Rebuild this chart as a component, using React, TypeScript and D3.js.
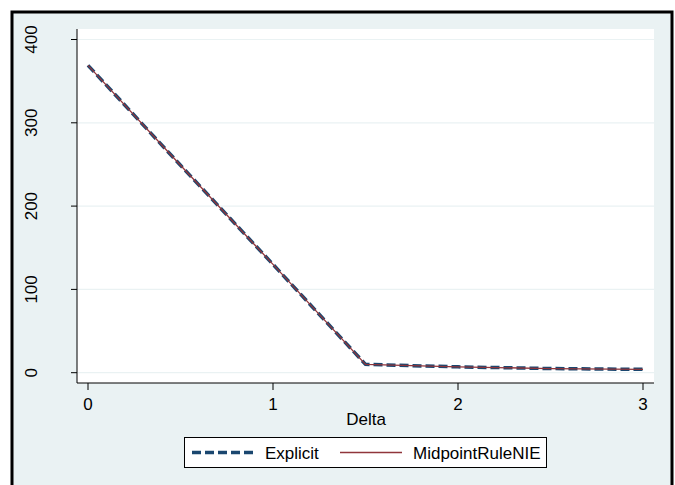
import React from "react";
import * as d3 from "d3";

const deltas = [0, 0.5, 1, 1.5, 2, 2.5, 3];
const explicitVals = [369, 249, 130, 10, 7, 5, 4];
const midpointVals = [369, 249, 130, 10, 7, 5, 4];
const yTicks = [0, 100, 200, 300, 400];
const xTicks = [0, 1, 2, 3];
const seriesNames = ["Explicit", "MidpointRuleNIE"];

export default function App() {
  const W = 675, H = 485;
  const plot = { left: 77, right: 654, top: 29, bottom: 383 };
  const x = d3.scaleLinear().domain([0, 3]).range([88, 643]);
  const y = d3.scaleLinear().domain([0, 400]).range([372.7, 39.5]);
  const line = d3.line<number>().x((_, i) => x(deltas[i])).y((d) => y(d));
  const font = "Arial, 'Liberation Sans', sans-serif";
  const fs = 17;
  return (
    <svg width={W} height={H} style={{ position: "absolute", left: 0, top: 0 }}>
      <rect x={0} y={0} width={W} height={H} fill="#ffffff" />
      <rect x={12} y={12} width={660} height={H} fill="#eaf2f3" stroke="#000" strokeWidth={3} />
      <rect x={plot.left} y={plot.top} width={plot.right - plot.left} height={plot.bottom - plot.top} fill="#ffffff" />
      {yTicks.map((t) => (
        <g key={t}>
          <line x1={plot.left} x2={plot.right} y1={y(t)} y2={y(t)} stroke="#eaf2f3" strokeWidth={1.2} />
          <line x1={71} x2={plot.left} y1={y(t)} y2={y(t)} stroke="#000" strokeWidth={1} />
          <text x={37} y={y(t)} transform={`rotate(-90 37 ${y(t)})`} textAnchor="middle" fontFamily={font} fontSize={fs}>{t}</text>
        </g>
      ))}
      {xTicks.map((t) => (
        <g key={t}>
          <line x1={x(t)} x2={x(t)} y1={plot.bottom} y2={plot.bottom + 7} stroke="#000" strokeWidth={1} />
          <text x={x(t)} y={409.5} textAnchor="middle" fontFamily={font} fontSize={fs}>{t}</text>
        </g>
      ))}
      <line x1={plot.left} x2={plot.left} y1={plot.top} y2={plot.bottom} stroke="#000" strokeWidth={1} />
      <line x1={plot.left} x2={plot.right} y1={plot.bottom} y2={plot.bottom} stroke="#000" strokeWidth={1} />
      <text x={366} y={425} textAnchor="middle" fontFamily={font} fontSize={fs}>Delta</text>
      <path d={line(explicitVals) || ""} fill="none" stroke="#1a476f" strokeWidth={3.5} strokeDasharray="9 4" />
      <path d={line(midpointVals) || ""} fill="none" stroke="#90353b" strokeWidth={1.3} />
      <rect x={184.5} y={437.5} width={362} height={30} fill="#fff" stroke="#000" strokeWidth={1} />
      <line x1={192} x2={255} y1={452.5} y2={452.5} stroke="#1a476f" strokeWidth={3.5} strokeDasharray="9 4" />
      <text x={265} y={458.5} fontFamily={font} fontSize={fs}>{seriesNames[0]}</text>
      <line x1={340} x2={402} y1={452.5} y2={452.5} stroke="#90353b" strokeWidth={1.3} />
      <text x={413} y={458.5} fontFamily={font} fontSize={fs}>{seriesNames[1]}</text>
    </svg>
  );
}
